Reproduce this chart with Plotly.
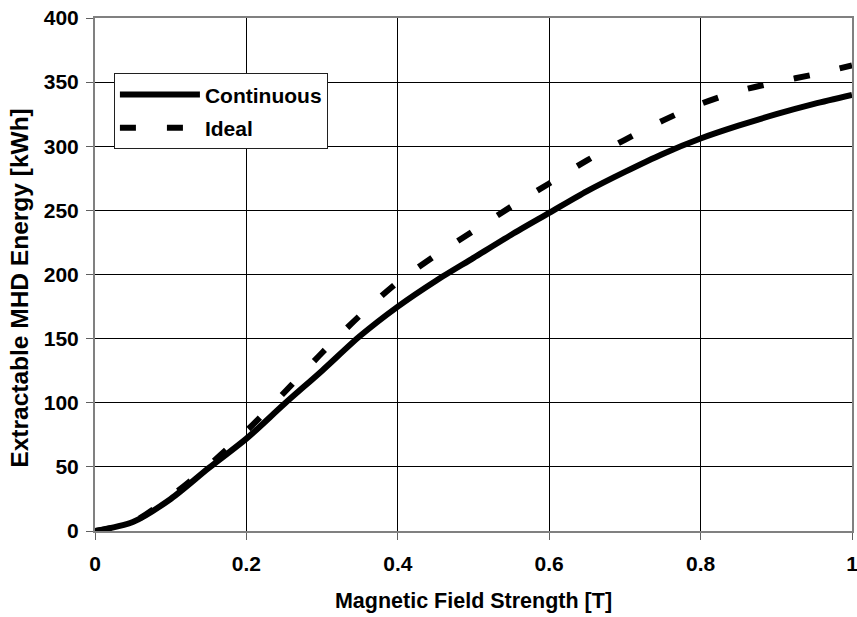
import plotly.graph_objects as go

field_T = [0.0, 0.05, 0.1, 0.15, 0.2, 0.25, 0.3, 0.35, 0.4, 0.45, 0.5,
           0.55, 0.6, 0.65, 0.7, 0.75, 0.8, 0.85, 0.9, 0.95, 1.0]
continuous_kwh = [0, 7, 25, 49, 72, 99, 125, 152, 175, 195, 213,
                  231, 248, 265, 280, 294, 306, 316, 325, 333, 340]
ideal_kwh = [0, 7, 27, 51, 78, 108, 139, 168, 194, 215, 234,
             253, 271, 289, 305, 320, 333, 343, 350, 356, 363]

x_ticks = [0, 0.2, 0.4, 0.6, 0.8, 1]
x_tick_labels = ["0", "0.2", "0.4", "0.6", "0.8", "1"]
y_ticks = [0, 50, 100, 150, 200, 250, 300, 350, 400]

FONT = "Liberation Sans, Arial, sans-serif"

fig = go.Figure()
fig.add_trace(go.Scatter(
    x=field_T, y=continuous_kwh, name="Continuous", mode="lines",
    legendgroup="a",
    line=dict(color="black", width=6, shape="spline", smoothing=0.8),
))
fig.add_trace(go.Scatter(
    x=field_T, y=ideal_kwh, name="Ideal", mode="lines",
    legendgroup="b",
    line=dict(color="black", width=6, dash="16px,31px", shape="spline", smoothing=0.8),
))

axis_common = dict(
    showline=True, linecolor="#808080", linewidth=2, mirror=True,
    showgrid=True, gridcolor="black", gridwidth=1,
    ticks="outside", ticklen=7, tickcolor="#606060", tickwidth=1,
    tickfont=dict(family=FONT, size=21, color="black", weight="bold"),
    zeroline=False, automargin=False, ticklabeloverflow="allow",
)

fig.update_layout(
    width=857, height=617,
    margin=dict(l=95, r=5, t=18, b=86),
    paper_bgcolor="white", plot_bgcolor="white",
    font=dict(family=FONT, color="black"),
    showlegend=True,
    legend=dict(
        x=0.025, y=0.892, xanchor="left", yanchor="top",
        bgcolor="white", bordercolor="#202020", borderwidth=1,
        font=dict(family=FONT, size=21, color="black", weight="bold"),
        itemwidth=80, tracegroupgap=3,
    ),
    xaxis=dict(
        range=[0, 1], tickvals=x_ticks, ticktext=x_tick_labels,
        ticklabelstandoff=6,
        title=dict(text="Magnetic Field Strength [T]", standoff=19,
                   font=dict(family=FONT, size=21.5, color="black", weight="bold")),
        **axis_common,
    ),
    yaxis=dict(
        range=[0, 400], tickvals=y_ticks, ticklabelstandoff=3,
        **axis_common,
    ),
    annotations=[dict(
        text="Extractable MHD Energy [kWh]", textangle=-90,
        xref="paper", yref="paper", x=-0.1, y=0.473,
        xanchor="center", yanchor="middle", showarrow=False,
        font=dict(family=FONT, size=24.5, color="black", weight="bold"),
    )],
)

fig.write_html("out.html")
